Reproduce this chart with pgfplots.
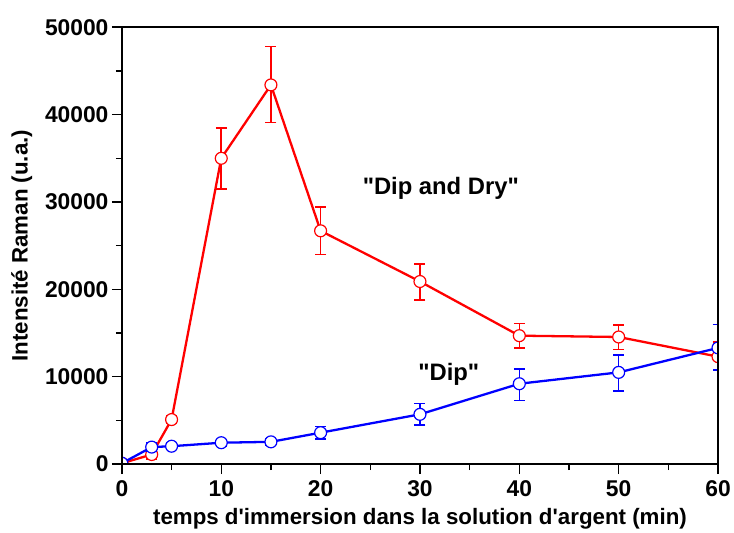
\documentclass[border={8bp 0pt 0pt 16pt}]{standalone}
\usepackage{pgfplots}
\pgfplotsset{compat=1.18}
\usepackage{fontspec}
\setmainfont{Liberation Sans}[Ligatures=TeXOff]

\definecolor{dipred}{RGB}{255,0,0}
\definecolor{dipblue}{RGB}{0,0,255}

% x, y, error plus, error minus
\pgfplotstableread{
x   y      ep    em
0   100    0     0
3   1100   500   500
5   5100   400   400
10  35000  3500  3500
15  43400  4400  4300
20  26700  2700  2700
30  20900  2000  2100
40  14700  1400  1400
50  14550  1400  1450
60  12300  1700  1500
}\dipdry

\pgfplotstableread{
x   y      ep    em
0   100    0     0
3   1950   450   450
5   2050   350   350
10  2450   350   350
15  2550   350   350
20  3600   700   700
30  5700   1250  1250
40  9200   1700  1900
50  10500  2000  2100
60  13300  2700  2500
}\dip

\begin{document}
\begin{tikzpicture}
\begin{axis}[
    scale only axis,
    width=599bp, height=439bp,
    xmin=0, xmax=60, ymin=0, ymax=50000,
    xtick={0,10,...,60}, minor xtick={5,15,...,55},
    ytick={0,10000,...,50000}, minor ytick={5000,15000,...,45000},
    tick pos=left, tick align=outside,
    major tick length=10bp, minor tick length=6bp,
    every tick/.style={black, line width=1.5bp},
    axis line style={line width=2.2bp},
    axis on top,
    clip marker paths=true,
    scaled y ticks=false,
    /pgf/number format/assume math mode=true,
    yticklabel style={/pgf/number format/fixed, /pgf/number format/1000 sep={}},
    xticklabel style={yshift=-3bp},
    tick label style={font=\fontsize{23}{26}\selectfont\bfseries},
    xlabel={temps d'immersion dans la solution d'argent (min)},
    ylabel={Intensité Raman (u.a.)},
    xlabel style={font=\fontsize{22.5}{26}\selectfont\bfseries, yshift=-5bp},
    ylabel style={font=\fontsize{22.5}{26}\selectfont\bfseries, yshift=6bp},
]
\addplot[dipred, line width=2.3bp, mark=*, mark size=6bp,
    mark options={fill=white, line width=1.2bp},
    error bars/.cd, y dir=both, y explicit,
    error bar style={dipred, line width=1.6bp},
    error mark options={dipred, rotate=90, mark size=5.5bp, line width=1.6bp}]
    table[x=x, y=y, y error plus=ep, y error minus=em] {\dipdry};
\addplot[dipblue, line width=2.3bp, mark=*, mark size=6bp,
    mark options={fill=white, line width=1.2bp},
    error bars/.cd, y dir=both, y explicit,
    error bar style={dipblue, line width=1.6bp},
    error mark options={dipblue, rotate=90, mark size=5.5bp, line width=1.6bp}]
    table[x=x, y=y, y error plus=ep, y error minus=em] {\dip};
\node[font=\fontsize{24}{27}\selectfont\bfseries] at (axis cs:32.1,31550) {"Dip and Dry"};
\node[font=\fontsize{24}{27}\selectfont\bfseries] at (axis cs:32.9,10250) {"Dip"};
\end{axis}
\end{tikzpicture}
\end{document}
